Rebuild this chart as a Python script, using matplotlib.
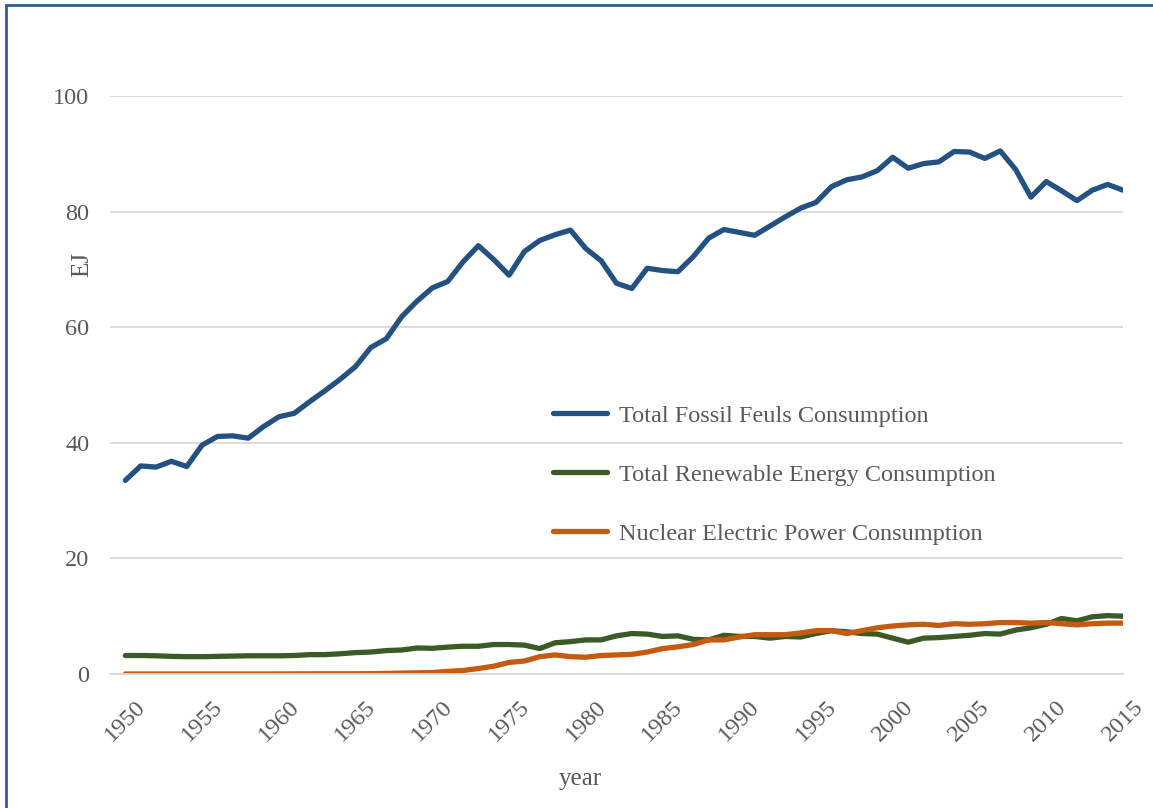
import matplotlib
matplotlib.use("Agg")
import matplotlib.pyplot as plt
from matplotlib.patches import Rectangle

# -----------------------
# DATA (EJ)
# -----------------------
years = list(range(1950, 2016))

fossil = [
    33.5, 36.0, 35.8, 36.8, 35.9, 39.6, 41.1, 41.2, 40.8, 42.8,
    44.5, 45.1, 47.1, 49.0, 51.0, 53.2, 56.5, 58.0, 61.8, 64.5,
    66.8, 67.9, 71.3, 74.1, 71.7, 69.0, 73.1, 75.0, 76.0, 76.8,
    73.6, 71.5, 67.6, 66.7, 70.2, 69.8, 69.6, 72.2, 75.4, 76.9,
    76.4, 75.9, 77.5, 79.1, 80.6, 81.6, 84.3, 85.5, 86.0, 87.1,
    89.4, 87.5, 88.3, 88.6, 90.4, 90.3, 89.2, 90.5, 87.3, 82.5,
    85.2, 83.6, 81.9, 83.7, 84.7, 83.7,
]

renewable = [
    3.2, 3.2, 3.15, 3.05, 3.0, 3.0, 3.05, 3.1, 3.15, 3.15,
    3.15, 3.2, 3.35, 3.35, 3.5, 3.7, 3.8, 4.05, 4.15, 4.5,
    4.45, 4.65, 4.8, 4.8, 5.1, 5.1, 5.0, 4.4, 5.4, 5.6,
    5.9, 5.9, 6.6, 7.0, 6.9, 6.5, 6.6, 6.0, 5.9, 6.7,
    6.5, 6.5, 6.2, 6.5, 6.4, 7.0, 7.5, 7.3, 7.0, 6.9,
    6.2, 5.5, 6.2, 6.3, 6.5, 6.7, 7.0, 6.9, 7.6, 8.0,
    8.6, 9.6, 9.2, 9.9, 10.1, 10.0,
]

nuclear = [
    0.0, 0.0, 0.0, 0.0, 0.0, 0.0, 0.0, 0.0, 0.0, 0.0,
    0.01, 0.02, 0.03, 0.04, 0.04, 0.04, 0.06, 0.1, 0.15, 0.2,
    0.25, 0.45, 0.6, 0.95, 1.35, 2.0, 2.25, 3.0, 3.3, 3.0,
    2.9, 3.2, 3.3, 3.4, 3.8, 4.4, 4.7, 5.1, 5.9, 5.9,
    6.4, 6.8, 6.8, 6.8, 7.1, 7.5, 7.5, 7.0, 7.5, 8.0,
    8.3, 8.5, 8.6, 8.4, 8.7, 8.6, 8.7, 8.9, 8.9, 8.8,
    8.9, 8.7, 8.5, 8.7, 8.8, 8.8,
]

labels = [
    "Total Fossil Feuls Consumption",
    "Total Renewable Energy Consumption",
    "Nuclear Electric Power Consumption",
]
colors = ["#235182", "#3B5A26", "#C55A11"]
xticks = list(range(1950, 2016, 5))
yticks = [0, 20, 40, 60, 80, 100]

# -----------------------
# STYLE
# -----------------------
plt.rcParams["font.family"] = ["Liberation Serif", "DejaVu Serif"]
text_color = "#595959"
grid_color = "#D9D9D9"

fig = plt.figure(figsize=(11.53, 8.08), dpi=100)
ax = fig.add_axes([110 / 1153, 134 / 808, 1013 / 1153, 578 / 808])

for series, label, color in zip([fossil, renewable, nuclear], labels, colors):
    ax.plot(years, series, color=color, lw=3.8, label=label,
            solid_capstyle="round", solid_joinstyle="round")

ax.set_xlim(1949.0, 2015.0)
ax.set_ylim(0, 100)
ax.set_yticks(yticks)
ax.set_xticks(xticks)
ax.set_xticklabels([str(x) for x in xticks], rotation=45, ha="center")
ax.tick_params(axis="both", length=0, labelsize=17.5, colors=text_color)
ax.tick_params(axis="y", pad=15)
ax.tick_params(axis="x", pad=16)

ax.grid(axis="y", color=grid_color, lw=1.3)
ax.set_axisbelow(True)
for side in ["top", "right", "left"]:
    ax.spines[side].set_visible(False)
ax.spines["bottom"].set_color(grid_color)
ax.spines["bottom"].set_linewidth(1.3)

ax.set_ylabel("EJ", fontsize=18, color=text_color)
ax.yaxis.set_label_coords(-0.017, 0.708)
ax.set_xlabel("year", fontsize=18, color=text_color)
ax.xaxis.set_label_coords(0.464, -0.162)

ax.legend(loc="center left", bbox_to_anchor=(0.416, 0.345), frameon=False,
          fontsize=17.5, labelcolor=text_color, handlelength=2.2,
          handletextpad=0.5, labelspacing=1.52)

# frame: only the left and top edges are visible in the crop
fig.patches.append(Rectangle((6 / 1153, -0.5), 2.0, 0.5 + 803 / 808,
                             transform=fig.transFigure, fill=False,
                             edgecolor="#2E5E8E", lw=2, clip_on=False))

plt.savefig("out.png", dpi=100)
